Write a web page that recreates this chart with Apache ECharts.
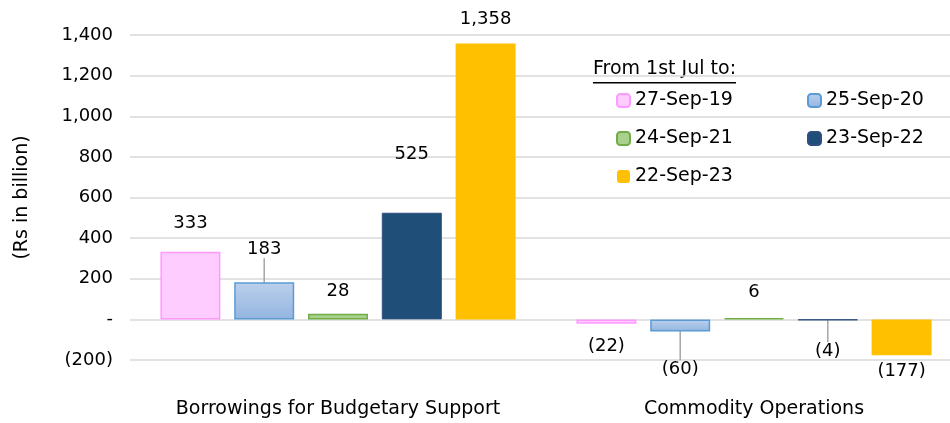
<!DOCTYPE html>
<html><head><meta charset="utf-8">
<script src="https://cdn.jsdelivr.net/npm/echarts@6/dist/echarts.min.js"></script>
<style>html,body{margin:0;padding:0;background:#fff}#c{width:950px;height:423px}</style>
</head><body><div id="c"></div>
<script>
const categories = ['Borrowings for Budgetary Support', 'Commodity Operations'];
const seriesNames = ['27-Sep-19', '25-Sep-20', '24-Sep-21', '23-Sep-22', '22-Sep-23'];
const v2019 = [333, -22];
const v2020 = [183, -60];
const v2021 = [28, 6];
const v2022 = [525, -4];
const v2023 = [1358, -177];
const yTicks = [-200, 0, 200, 400, 600, 800, 1000, 1200, 1400];
const legendTitle = 'From 1st Jul to:';
const yName = '(Rs in billion)';

const FONT = 'DejaVu Sans';
const FS = 18;   // numbers
const FW = 19;   // words
const allValues = [v2019, v2020, v2021, v2022, v2023];

const styles = [
  {color: '#FFCCFF', borderColor: '#FF99FF', borderWidth: 1.5},
  {color: {type: 'linear', x: 0, y: 0, x2: 0, y2: 1, colorStops: [{offset: 0, color: '#BCD0EC'}, {offset: 1, color: '#93B5E0'}]}, borderColor: '#5B9BD5', borderWidth: 1.5},
  {color: '#A9D18E', borderColor: '#70AD47', borderWidth: 1.5},
  {color: '#1F4E79', borderColor: '#2F4F7F', borderWidth: 1},
  {color: '#FFC000', borderColor: '#FFC000', borderWidth: 0}
];
// label distance / offset tweaks [series][category]
const labelTweak = [
  [{d: 19}, {d: 13, off: [-11, 0]}],
  [{d: 5, dy: -19, line: true}, {d: 5, dy: 24, line: true}],
  [{d: 13}, {d: 17}],
  [{d: 49}, {d: 5, dy: 17, line: true}],
  [{d: 15}, {d: 7}]
];

function fmt(v) {
  if (v === 0) return '-';
  const s = Math.abs(v).toLocaleString('en-US');
  return v < 0 ? '(' + s + ')' : s;
}

const series = seriesNames.map((name, si) => ({
  name, type: 'bar', barWidth: 60, barGap: '23%',
  itemStyle: styles[si],
  label: {show: true, fontFamily: FONT, fontSize: FS, color: '#000', formatter: p => fmt(p.value)},
  labelLine: {show: false},
  data: allValues[si].map((v, ci) => {
    const t = labelTweak[si][ci];
    return {
      value: v,
      label: {position: v < 0 ? 'bottom' : 'top', distance: t.d, offset: t.off || [0, 0]},
      labelLine: {show: !!t.line, lineStyle: {color: '#A6A6A6', width: 1.5}}
    };
  })
}));

const chart = echarts.init(document.getElementById('c'), null, {renderer: 'canvas'});

const ctx = document.createElement('canvas').getContext('2d');
ctx.font = FW + 'px "' + FONT + '"';
const titleW = ctx.measureText(legendTitle).width;

chart.setOption({
  animation: false,
  textStyle: {fontFamily: FONT},
  grid: {left: 130, top: 35, bottom: 63, width: 832, containLabel: false, outerBoundsMode: 'none'},
  xAxis: {
    type: 'category', data: categories, position: 'bottom',
    axisLine: {show: false}, axisTick: {show: false},
    axisLabel: {fontFamily: FONT, fontSize: FW, color: '#000', margin: 40, interval: 0, hideOverlap: false}
  },
  yAxis: {
    type: 'value', min: yTicks[0], max: yTicks[yTicks.length - 1], interval: 200,
    name: yName, nameLocation: 'middle', nameGap: 98, nameRotate: 90,
    nameTextStyle: {fontFamily: FONT, fontSize: FW, color: '#000'},
    axisLine: {show: false}, axisTick: {show: false},
    axisLabel: {fontFamily: FONT, fontSize: FS, color: '#000', margin: 17, formatter: fmt},
    splitLine: {lineStyle: {color: '#D9D9D9', width: 1.5}}
  },
  legend: [
    {data: [seriesNames[0], seriesNames[2], seriesNames[4]], orient: 'vertical', left: 616, top: 90,
     itemWidth: 13, itemHeight: 13, itemGap: 17, padding: 0,
     textStyle: {fontFamily: FONT, fontSize: FW, color: '#000', lineHeight: 21}},
    {data: [seriesNames[1], seriesNames[3]], orient: 'vertical', left: 807, top: 90,
     itemWidth: 13, itemHeight: 13, itemGap: 17, padding: 0,
     textStyle: {fontFamily: FONT, fontSize: FW, color: '#000', lineHeight: 21}}
  ],
  graphic: [
    {type: 'text', left: 593, top: 60, style: {text: legendTitle, font: FW + 'px "' + FONT + '"', fill: '#000'}},
    {type: 'rect', left: 593, top: 82, shape: {width: titleW, height: 1.5}, style: {fill: '#000'}}
  ],
  labelLayout: function (p) {
    const t = labelTweak[p.seriesIndex][p.dataIndex];
    return t.dy ? {dy: t.dy} : {};
  },
  series
});
</script></body></html>
